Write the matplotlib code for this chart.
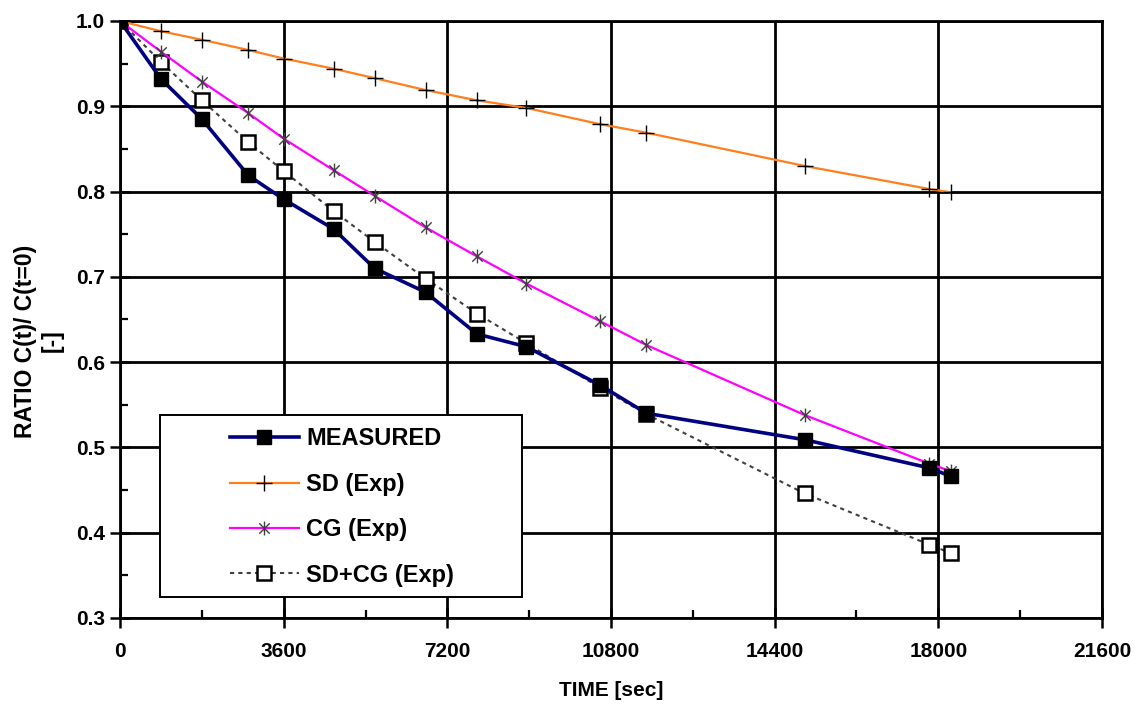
import matplotlib.pyplot as plt
from matplotlib.path import Path
from matplotlib.patches import Rectangle
from matplotlib.ticker import MultipleLocator, FormatStrFormatter

plt.rcParams['font.family'] = ['Liberation Sans', 'DejaVu Sans']
plt.rcParams['font.weight'] = 'bold'

# time of each sample [sec]
t = [0, 900, 1800, 2820, 3600, 4700, 5600, 6720, 7850, 8940,
     10560, 11580, 15060, 17800, 18280]

measured = [1.0, 0.932, 0.885, 0.819, 0.791, 0.756, 0.710, 0.682, 0.633, 0.618,
            0.573, 0.540, 0.509, 0.476, 0.466]
sd_exp = [1.0, 0.988, 0.978, 0.966, 0.956, 0.944, 0.933, 0.919, 0.907, 0.898,
          0.879, 0.869, 0.830, 0.803, 0.799]
cg_exp = [1.0, 0.964, 0.929, 0.892, 0.862, 0.825, 0.795, 0.758, 0.724, 0.692,
          0.648, 0.620, 0.538, 0.481, 0.472]
sdcg_exp = [1.0, 0.952, 0.907, 0.858, 0.824, 0.777, 0.741, 0.698, 0.657, 0.622,
            0.570, 0.539, 0.446, 0.386, 0.376]

labels = ['MEASURED', 'SD (Exp)', 'CG (Exp)', 'SD+CG (Exp)']

# excel style asterisk: X with a vertical bar
star = Path([(0, -1), (0, 1), (-0.75, -0.75), (0.75, 0.75), (-0.75, 0.75), (0.75, -0.75)],
            [Path.MOVETO, Path.LINETO, Path.MOVETO, Path.LINETO, Path.MOVETO, Path.LINETO])

fig = plt.figure(figsize=(11.43, 7.04), dpi=100)
ax = fig.add_axes([0.105, 0.1222, 0.8591, 0.848])

ax.plot(t, measured, color='#000080', lw=2.6, marker='s', ms=10,
        mfc='black', mec='black', zorder=6, label=labels[0])
ax.plot(t, sd_exp, color='#FF7F1E', lw=1.6, marker='+', ms=11,
        mec='black', mew=1.0, zorder=5, label=labels[1])
ax.plot(t, cg_exp, color='#FF00FF', lw=1.6, marker=star, ms=10,
        mfc='none', mec='#404040', mew=1.0, zorder=5, label=labels[2])
ax.plot(t, sdcg_exp, color='#404040', lw=1.5, ls=(0, (2, 2)), marker='s', ms=10,
        mfc='white', mec='black', mew=1.8, zorder=4, label=labels[3])

ax.set_xlim(0, 21600)
ax.set_ylim(0.3, 1.0)
ax.xaxis.set_major_locator(MultipleLocator(3600))
ax.xaxis.set_minor_locator(MultipleLocator(1800))
ax.yaxis.set_major_locator(MultipleLocator(0.1))
ax.yaxis.set_minor_locator(MultipleLocator(0.05))
ax.yaxis.set_major_formatter(FormatStrFormatter('%.1f'))

ax.grid(True, which='major', color='black', lw=2.0, zorder=1)
ax.set_axisbelow(True)
for s in ax.spines.values():
    s.set_linewidth(2.0)

ax.tick_params(which='major', direction='inout', length=14, width=1.8,
               labelsize=15, pad=4)
ax.tick_params(axis='x', which='major', pad=10)
ax.tick_params(which='minor', direction='in', length=6, width=1.6)
ax.tick_params(axis='x', which='minor', top=False)
ax.tick_params(axis='y', which='minor', right=False)
for lab in ax.get_xticklabels() + ax.get_yticklabels():
    lab.set_fontweight('heavy')

ax.set_xlabel('TIME [sec]', fontsize=15, fontweight='heavy', labelpad=15)
ax.set_ylabel('RATIO C(t)/ C(t=0)\n[-]', fontsize=16.5, fontweight='heavy')
ax.yaxis.set_label_coords(-0.057, 0.464)

# legend box
ax.add_patch(Rectangle((0.0407, 0.0352), 0.3687, 0.3048, transform=ax.transAxes,
                       facecolor='white', edgecolor='black', lw=1.4, zorder=7))
leg = ax.legend(loc='upper left', bbox_to_anchor=(0.0995, 0.339), frameon=False,
                borderpad=0, handlelength=2.95, handletextpad=0.3,
                labelspacing=0.95, prop={'size': 17, 'weight': 'bold'})
leg.set_zorder(8)

fig.savefig('out.png', dpi=100)
